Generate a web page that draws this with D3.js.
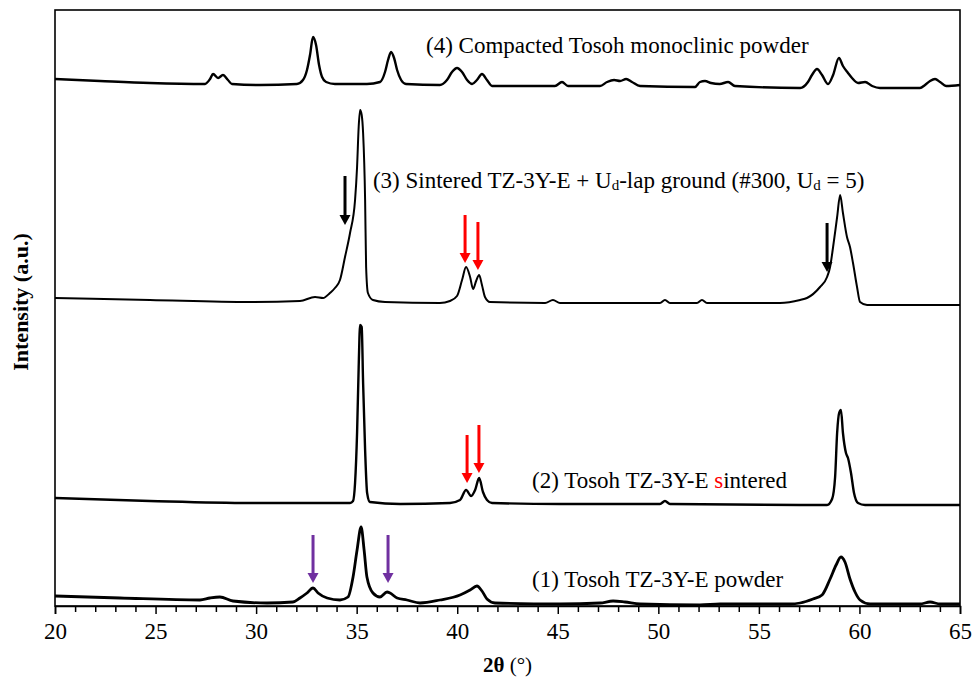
<!DOCTYPE html>
<html>
<head>
<meta charset="utf-8">
<script src="https://cdn.jsdelivr.net/npm/d3@7/dist/d3.min.js"></script>
<style>
  html, body { margin: 0; padding: 0; background: #fff; }
  svg { display: block; }
  text { font-family: "Liberation Serif", "Times New Roman", serif; fill: #000; }
</style>
</head>
<body>
<svg id="chart" width="973" height="678"></svg>
<script>
// XRD patterns, 2θ (°) vs intensity (a.u.); each pattern is stacked by its offset.
const xTicksMajor = [20, 25, 30, 35, 40, 45, 50, 55, 60, 65];

// (1) Tosoh TZ-3Y-E powder
const powder = [
  [20.00,10],[23.23,8],[27.21,6],[27.71,8],[28.20,9],[28.85,5],[30.54,3],[31.83,4],
  [32.18,8],[32.53,13],[32.83,18],[33.08,13],[33.53,8],[34.17,6],[34.57,9],[34.82,29],
  [35.02,56],[35.22,79],[35.37,56],[35.51,29],[35.81,13],[36.16,9],[36.51,14],[36.66,13],
  [37.01,8],[37.50,6],[38.15,3],[39.14,6],[40.14,11],[40.64,16],[40.98,20],[41.23,15],
  [41.48,7],[41.88,3],[45.11,2],[47.10,3],[47.75,5],[48.34,4],[49.09,2],[52.07,1],
  [53.07,2],[56.55,2],[57.05,3],[57.69,7],[58.14,11],[58.54,27],[58.84,41],[59.08,49],
  [59.28,44],[59.53,27],[59.78,14],[60.03,6],[60.53,2],[63.01,2],[63.51,4],[64.01,2],[65.00,2]
];

// (2) Tosoh TZ-3Y-E sintered
const sintered = [
  [20.00,8],[24.72,5],[29.70,3],[34.17,3],[34.67,3],[34.82,5],[34.92,23],[35.02,73],
  [35.10,139],[35.17,181],[35.25,179],[35.32,123],[35.42,56],[35.52,13],[35.66,4],[37.16,2],
  [39.64,3],[40.14,6],[40.44,16],[40.69,10],[40.89,16],[41.09,28],[41.28,14],[41.48,6],
  [41.73,3],[45.11,2],[50.08,2],[50.33,5],[50.58,2],[57.05,1],[58.39,1],[58.64,7],
  [58.79,29],[58.89,73],[58.99,93],[59.08,96],[59.18,73],[59.33,53],[59.43,48],[59.58,33],
  [59.73,13],[59.93,3],[60.28,1],[65.00,1]
];

// (3) Sintered TZ-3Y-E + Ud-lap ground (#300, Ud = 5)
const ground = [
  [20.00,8],[24.72,6],[29.70,4],[32.18,5],[32.93,9],[33.33,8],[33.67,13],[33.92,18],
  [34.17,26],[34.42,49],[34.67,73],[34.92,106],[35.02,139],[35.10,179],[35.17,196],[35.25,191],
  [35.32,173],[35.42,106],[35.47,39],[35.56,13],[35.81,6],[36.41,4],[39.14,3],[39.64,5],
  [39.99,10],[40.24,26],[40.44,39],[40.64,29],[40.79,17],[40.94,25],[41.09,31],[41.23,21],
  [41.38,9],[41.63,4],[44.37,3],[44.76,6],[45.11,3],[50.08,3],[50.33,6],[50.58,3],
  [51.92,3],[52.17,6],[52.42,3],[56.05,3],[57.05,6],[57.39,8],[58.04,19],[58.39,29],
  [58.54,39],[58.69,59],[58.89,89],[59.04,111],[59.18,93],[59.38,69],[59.53,59],[59.68,43],
  [59.88,19],[60.03,4],[60.38,1],[65.00,1]
];

// (4) Compacted Tosoh monoclinic powder
const monoclinic = [
  [20.00,12],[22.24,10],[24.72,8],[27.46,7],[27.71,12],[27.86,17],[28.11,13],[28.35,16],
  [28.60,11],[28.80,7],[30.19,6],[32.03,7],[32.33,11],[32.53,21],[32.68,36],[32.83,54],
  [32.98,46],[33.13,26],[33.28,14],[33.48,9],[33.92,7],[35.51,7],[36.16,9],[36.41,19],
  [36.56,31],[36.71,39],[36.86,33],[37.01,21],[37.21,11],[37.45,7],[39.14,6],[39.49,11],
  [39.74,19],[39.99,23],[40.24,19],[40.49,11],[40.74,7],[40.98,11],[41.23,17],[41.48,11],
  [41.73,5],[44.86,5],[45.21,9],[45.51,5],[47.10,5],[47.45,9],[47.80,11],[48.10,10],
  [48.40,12],[48.69,9],[49.09,5],[51.82,4],[52.07,9],[52.32,10],[52.62,8],[53.05,7],
  [53.47,9],[53.81,5],
  [57.05,3],[57.44,9],[57.64,16],[57.89,22],[58.14,16],[58.44,7],[58.69,16],[58.98,33],
  [59.18,25],[59.43,18],[59.63,13],[59.93,8],[60.28,9],[60.63,5],[61.02,3],[63.01,3],
  [63.26,6],[63.51,10],[63.76,12],[64.01,9],[64.31,5],[65.00,6]
];

const patterns = [powder, sintered, ground, monoclinic];
const offsets = [0, 100, 300, 515];
const strokeWidths = [2.8, 2.4, 2.0, 2.4];

// Peak markers: 2θ, top and tip of the arrow on the stacked intensity axis
const arrowTheta = [34.42, 58.39, 40.39, 41.03, 40.49, 41.08, 32.83, 36.56];
const arrowTop   = [430, 383, 391, 384, 171, 181, 71, 71];
const arrowTip   = [381, 334, 343, 336, 123, 133, 23, 23];
const arrowColor = ["#000000", "#000000", "#ff0000", "#ff0000", "#ff0000", "#ff0000", "#7030a0", "#7030a0"];

// Pattern captions: anchor 2θ and baseline on the stacked intensity axis
const labelTheta = [43.72, 43.72, 35.81, 38.45];
const labelY = [19, 118, 418, 553];

const svg = d3.select("#chart");
const margin = { left: 55, right: 13, top: 10, bottom: 72 };
const W = 973, H = 678;

const x = d3.scaleLinear().domain([20, 65]).range([margin.left, W - margin.right]);
const y = d3.scaleLinear().domain([0, 596]).range([H - margin.bottom, margin.top]);

// frame
svg.append("rect")
  .attr("x", x(20)).attr("y", y(596))
  .attr("width", x(65) - x(20)).attr("height", y(0) - y(596))
  .attr("fill", "none").attr("stroke", "#000").attr("stroke-width", 1.6);

// x axis with minor ticks every degree
const minor = d3.range(20, 66, 1).filter(v => v % 5 !== 0);
svg.append("g")
  .attr("transform", `translate(0,${y(0)})`)
  .call(d3.axisBottom(x).tickValues(minor).tickSize(6).tickFormat(""))
  .call(g => g.select(".domain").remove())
  .call(g => g.selectAll("line").attr("stroke", "#000").attr("stroke-width", 1.5));

const xAxis = svg.append("g")
  .attr("transform", `translate(0,${y(0)})`)
  .call(d3.axisBottom(x).tickValues(xTicksMajor).tickSize(8).tickPadding(9).tickFormat(d3.format("d")));
xAxis.select(".domain").attr("stroke", "#000").attr("stroke-width", 1.6);
xAxis.selectAll("line").attr("stroke", "#000").attr("stroke-width", 1.5);
xAxis.selectAll("text")
  .style("font-family", '"Liberation Serif", "Times New Roman", serif')
  .style("font-size", "23px").attr("fill", "#000");

// axis titles
const xt = svg.append("text")
  .attr("x", (x(20) + x(65)) / 2).attr("y", 672)
  .attr("text-anchor", "middle").style("font-size", "21px");
xt.append("tspan").attr("font-weight", "bold").text("2θ");
xt.append("tspan").text(" (°)");

svg.append("text")
  .attr("transform", `translate(28,${(y(0) + y(596)) / 2 - 6}) rotate(-90)`)
  .attr("text-anchor", "middle")
  .attr("font-weight", "bold")
  .style("font-size", "22px")
  .text("Intensity (a.u.)");

// patterns
const line = d3.line().curve(d3.curveMonotoneX);
patterns.forEach((p, i) => {
  svg.append("path")
    .attr("d", line(p.map(d => [x(d[0]), y(d[1] + offsets[i])])))
    .attr("fill", "none")
    .attr("stroke", "#000")
    .attr("stroke-width", strokeWidths[i])
    .attr("stroke-linejoin", "round");
});

// arrows
arrowTheta.forEach((t, i) => {
  const cx = x(t), y0 = y(arrowTop[i]), y1 = y(arrowTip[i]);
  const head = 10, half = 5.5;
  svg.append("line")
    .attr("x1", cx).attr("x2", cx)
    .attr("y1", y0).attr("y2", y1 - head + 1)
    .attr("stroke", arrowColor[i]).attr("stroke-width", 3);
  svg.append("path")
    .attr("d", `M${cx - half},${y1 - head} L${cx + half},${y1 - head} L${cx},${y1} Z`)
    .attr("fill", arrowColor[i]);
});

// captions
const fs = "23px";
function caption(i) {
  return svg.append("text")
    .attr("x", x(labelTheta[i])).attr("y", y(labelY[i]))
    .style("font-size", fs);
}
caption(0).text("(1) Tosoh TZ-3Y-E powder");

const c2 = caption(1);
c2.append("tspan").text("(2) Tosoh TZ-3Y-E ");
c2.append("tspan").attr("fill", "#ff0000").style("fill", "#ff0000").text("s");
c2.append("tspan").text("intered");

const c3 = caption(2);
c3.append("tspan").text("(3) Sintered TZ-3Y-E + U");
c3.append("tspan").style("font-size", "15px").attr("dy", 2).text("d");
c3.append("tspan").attr("dy", -2).text("-lap ground (#300, U");
c3.append("tspan").style("font-size", "15px").attr("dy", 2).text("d");
c3.append("tspan").attr("dy", -2).text(" = 5)");

caption(3).text("(4) Compacted Tosoh monoclinic powder");
</script>
</body>
</html>
